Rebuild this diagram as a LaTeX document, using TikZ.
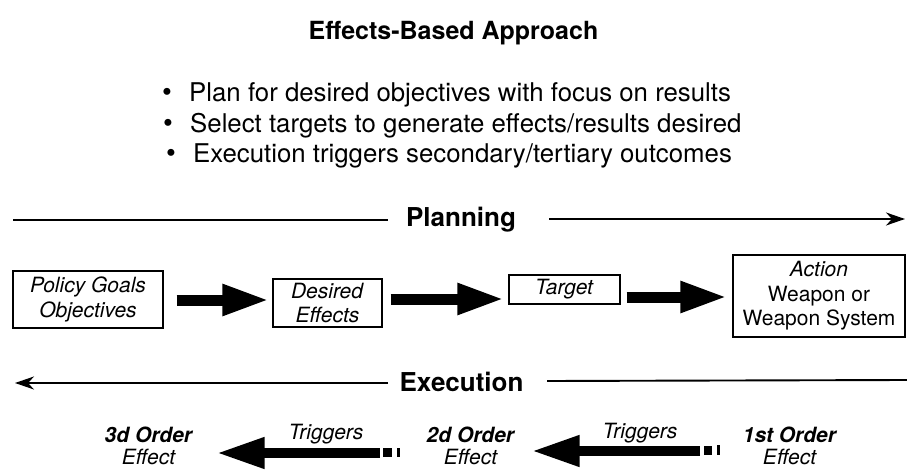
\documentclass[tikz,border=0pt]{standalone}
\usepackage{fontspec}
\setmainfont{TeX Gyre Heros}
\usetikzlibrary{arrows.meta,calc}
\begin{document}
\begin{tikzpicture}[x=1pt,y=-1pt,
  box/.style={draw, line width=1.4pt, inner sep=0pt, align=center, font=\fontsize{21}{24.5}\selectfont},
  fat/.style={line width=11pt, -{Triangle[length=47pt,width=29pt]}},
  fatb/.style={line width=10pt, -{Triangle[length=48pt,width=29pt]}},
  phase/.style={line width=1.9pt},
  phasearrow/.style={line width=1.9pt, -{Stealth[length=19pt,width=13pt,inset=6pt]}},
  phasetext/.style={inner sep=0pt, font=\fontsize{26}{30}\selectfont\bfseries},
  lbl/.style={inner sep=0pt, align=center, font=\fontsize{21}{22.5}\selectfont},
  bullettext/.style={inner sep=0pt, anchor=base west, font=\fontsize{25.8}{30}\selectfont},
  bulletdot/.style={inner sep=0pt, anchor=base, font=\fontsize{28}{30}\selectfont},
  tailmark/.style={fill=black}
]
\useasboundingbox (0,0) rectangle (907,470);

% title and bullets
\node[inner sep=0pt, anchor=base, font=\fontsize{25}{30}\selectfont\bfseries] (title) at (453.5,40) {Effects-Based Approach};
\node[bulletdot] (b1) at (167,102) {\textbullet};
\node[bulletdot] (b2) at (168,132.5) {\textbullet};
\node[bulletdot] (b3) at (171,163) {\textbullet};
\node[bullettext] (l1) at (189,102) {Plan for desired objectives with focus on results};
\node[bullettext] (l2) at (190,132.5) {Select targets to generate effects/results desired};
\node[bullettext] (l3) at (193,163) {Execution triggers secondary/tertiary outcomes};

% planning line
\node[phasetext] (plan) at (461,219.5) {Planning};
\coordinate (p0) at (13,220);
\coordinate (p1) at (388,220);
\coordinate (p2) at (549,219);
\coordinate (p3) at (905,219);
\draw[phase] (p0) -- (p1);
\draw[phasearrow] (p2) -- (p3);

% boxes
\node[box, minimum width=150pt, minimum height=57pt] (pol) at (88,299.5) {\textit{Policy Goals}\\\textit{Objectives}};
\node[box, minimum width=109pt, minimum height=48pt] (des) at (327.5,303) {\textit{Desired}\\\textit{Effects}};
\node[box, minimum width=111pt, minimum height=29pt] (tar) at (564.5,289.5) {\textit{Target}};
\node[box, minimum width=172pt, minimum height=82pt] (act) at (819,296) {\textit{Action}\\Weapon or\\Weapon System};

\draw[fat, shorten <=13pt, shorten >=3pt] (pol.east |- 0,300) -- (des.west |- 0,300);
\draw[fat, shorten <=8pt, shorten >=4pt] (des.east |- 0,299) -- (tar.west |- 0,299);
\draw[fat, shorten <=6pt, shorten >=5pt] (tar.east |- 0,297) -- (act.west |- 0,297);

% execution line
\node[phasetext] (exe) at (461.5,381.5) {Execution};
\coordinate (e0) at (388,383);
\coordinate (e1) at (15,383);
\coordinate (e2) at (547,381);
\coordinate (e3) at (907,380);
\draw[phasearrow] (e0) -- (e1);
\draw[phase] (e2) -- (e3);

% effects
\node[lbl] (o3) at (149,446) {\textbf{\textit{3d Order}}\\\textit{Effect}};
\node[lbl] (o2) at (471,446) {\textbf{\textit{2d Order}}\\\textit{Effect}};
\node[lbl] (o1) at (790,446) {\textbf{\textit{1st Order}}\\\textit{Effect}};

\node[lbl] (tr1) at (326,434) {\textit{Triggers}};
\node[lbl] (tr2) at (640,433) {\textit{Triggers}};

\coordinate (s1) at (380,453);
\coordinate (s2) at (700,451);
\draw[fatb, shorten >=23pt] (s1) -- (o3.east |- s1);
\draw[fatb, shorten >=16pt] (s2) -- (o2.east |- s2);

\fill[tailmark] (383,448) rectangle (392,457);
\fill[tailmark] (397,448) rectangle (400,457);
\fill[tailmark] (704,446) rectangle (712,455);
\fill[tailmark] (717,445) rectangle (720,455);
\end{tikzpicture}
\end{document}
